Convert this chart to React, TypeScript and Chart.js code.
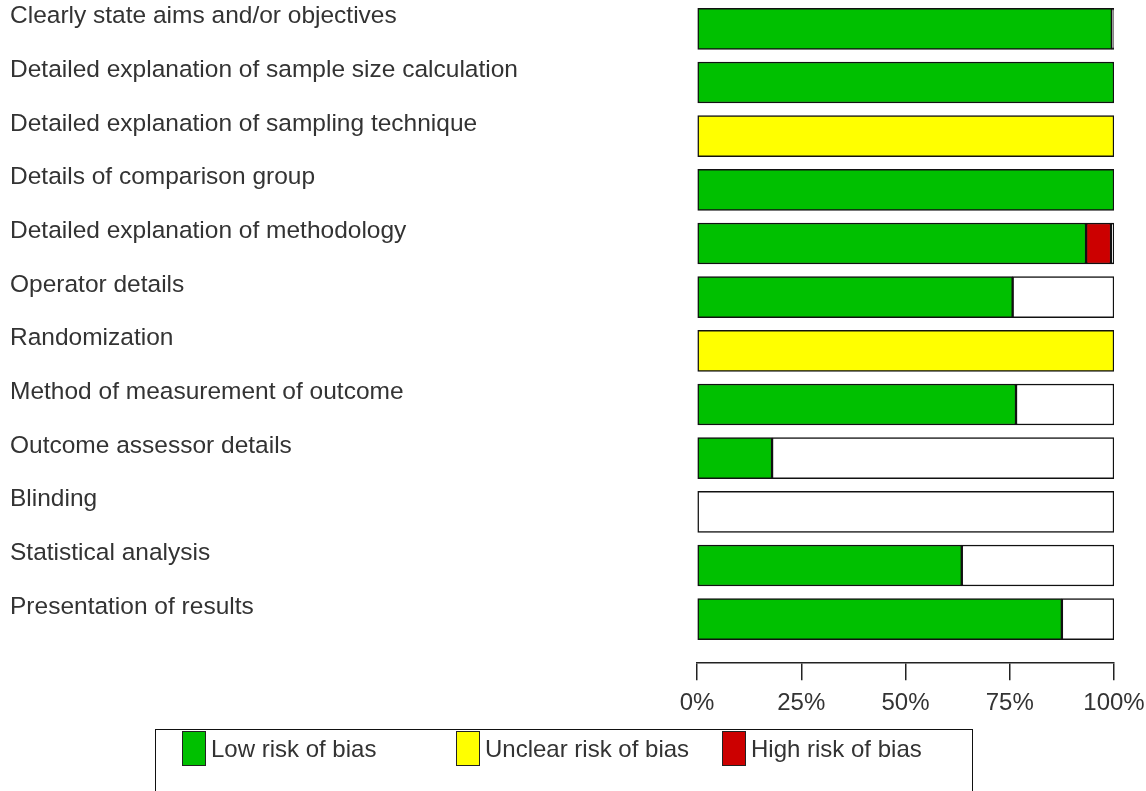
import React, { useEffect, useRef } from "react";
import { Chart, registerables } from "chart.js";

Chart.register(...registerables);

const categories = [
  "Clearly state aims and/or objectives",
  "Detailed explanation of sample size calculation",
  "Detailed explanation of sampling technique",
  "Details of comparison group",
  "Detailed explanation of methodology",
  "Operator details",
  "Randomization",
  "Method of measurement of outcome",
  "Outcome assessor details",
  "Blinding",
  "Statistical analysis",
  "Presentation of results",
];

const lowRisk = [99.5, 100, 0, 100, 93.3, 75.7, 0, 76.5, 18, 0, 63.5, 87.5];
const unclearRisk = [0, 0, 100, 0, 0, 0, 100, 0, 0, 0, 0, 0];
const highRisk = [0, 0, 0, 0, 6, 0, 0, 0, 0, 0, 0, 0];
const noInfo = [0.5, 0, 0, 0, 0.7, 24.3, 0, 23.5, 82, 100, 36.5, 12.5];

const xTicks = [0, 25, 50, 75, 100];

const GREEN = "#00c000";
const YELLOW = "#ffff00";
const RED = "#cc0000";
const WHITE = "#ffffff";
const TEXT = "#333333";
const FONT = "'Liberation Sans', Arial, sans-serif";

const legendItems = [
  { label: "Low risk of bias", color: GREEN, left: 26 },
  { label: "Unclear risk of bias", color: YELLOW, left: 300 },
  { label: "High risk of bias", color: RED, left: 566 },
];

function toPoints(values: number[]) {
  return values.map((v, i) => ({ x: v, y: i }));
}

export default function App() {
  const canvasRef = useRef<HTMLCanvasElement | null>(null);

  useEffect(() => {
    if (!canvasRef.current) return;
    const common = {
      borderColor: "#111111",
      borderWidth: 1.5,
      borderSkipped: false,
      barThickness: 41,
    };
    const chart = new Chart(canvasRef.current, {
      type: "bar",
      data: {
        datasets: [
          { label: "Low risk of bias", data: toPoints(lowRisk), backgroundColor: GREEN, ...common },
          { label: "Unclear risk of bias", data: toPoints(unclearRisk), backgroundColor: YELLOW, ...common },
          { label: "High risk of bias", data: toPoints(highRisk), backgroundColor: RED, ...common },
          { label: "No information", data: toPoints(noInfo), backgroundColor: WHITE, ...common },
        ],
      } as any,
      options: {
        indexAxis: "y",
        responsive: false,
        animation: false,
        layout: { padding: { left: 10, right: 32, top: 2, bottom: 64 } },
        plugins: {
          legend: { display: false },
          tooltip: { enabled: false },
        },
        scales: {
          x: {
            type: "linear",
            stacked: true,
            min: 0,
            max: 100,
            afterBuildTicks: (scale: any) => {
              scale.ticks = xTicks.map((v) => ({ value: v }));
            },
            afterFit: (scale: any) => {
              scale.paddingLeft = 0;
              scale.paddingRight = 0;
            },
            ticks: {
              callback: (v: any) => `${v}%`,
              color: TEXT,
              font: { family: FONT, size: 24 },
              padding: 9,
              maxRotation: 0,
            },
            grid: {
              drawOnChartArea: false,
              drawTicks: true,
              tickLength: 17,
              color: "#222222",
              lineWidth: 1.5,
            },
            border: { display: true, color: "#222222", width: 1.5 },
          },
          y: {
            type: "linear",
            stacked: true,
            reverse: true,
            offset: false,
            min: -0.5,
            max: 11.82,
            afterBuildTicks: (scale: any) => {
              scale.ticks = categories.map((_, i) => ({ value: i }));
            },
            afterFit: (scale: any) => {
              scale.width = 687;
              scale.paddingTop = 0;
              scale.paddingBottom = 0;
            },
            ticks: {
              autoSkip: false,
              crossAlign: "far",
              callback: (v: any) => (categories[v] !== undefined ? [categories[v], ""] : ""),
              color: TEXT,
              font: { family: FONT, size: 24.5, lineHeight: 1 },
            },
            grid: { display: false },
            border: { display: false },
          },
        },
      } as any,
    });
    return () => chart.destroy();
  }, []);

  return (
    <div
      style={{
        position: "fixed",
        left: 0,
        top: 0,
        width: 1146,
        height: 791,
        background: "#ffffff",
        overflow: "hidden",
      }}
    >
      <canvas ref={canvasRef} width={1146} height={791} style={{ display: "block" }} />
      <div
        style={{
          position: "absolute",
          left: 155,
          top: 729,
          width: 818,
          height: 90,
          border: "1.5px solid #111111",
          boxSizing: "border-box",
          fontFamily: FONT,
          fontSize: 24,
          color: TEXT,
        }}
      >
        {legendItems.map((it) => (
          <div
            key={it.label}
            style={{
              position: "absolute",
              left: it.left,
              top: 1,
              display: "flex",
              alignItems: "center",
              whiteSpace: "nowrap",
            }}
          >
            <span
              style={{
                display: "inline-block",
                width: 24,
                height: 35,
                background: it.color,
                border: "1.5px solid #222222",
                boxSizing: "border-box",
                marginRight: 5,
              }}
            />
            <span>{it.label}</span>
          </div>
        ))}
      </div>
    </div>
  );
}
